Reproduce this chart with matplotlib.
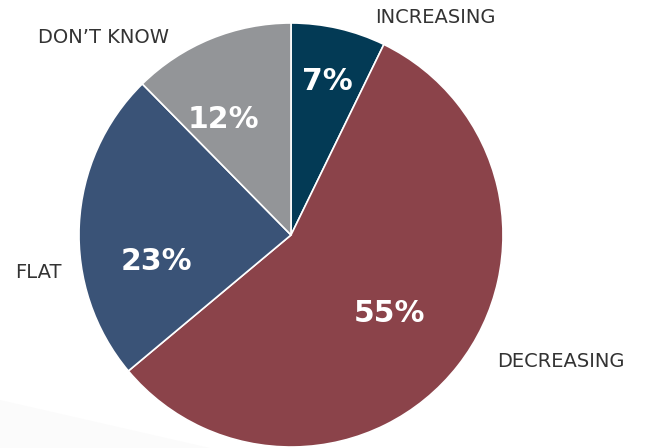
import matplotlib
matplotlib.use("Agg")
import matplotlib.pyplot as plt

categories = ["INCREASING", "DECREASING", "FLAT", "DON\u2019T KNOW"]
values = [7, 55, 23, 12]
colors = ["#033a55", "#8b434a", "#3a5377", "#939598"]
pct_labels = [f"{v}%" for v in values]

W, H = 652, 448
fig = plt.figure(figsize=(W / 100, H / 100), dpi=100)
ax = fig.add_axes([0, 0, 1, 1])

cx, cy, r = 291, H - 235, 212

# faint backdrop band in the lower left corner
ax.fill([0, 0, 210, 0], [0, 48, 0, 0], color="#fbfbfb", zorder=0, lw=0)

ax.pie(values, colors=colors, startangle=90, counterclock=False,
       center=(cx, cy), radius=r,
       wedgeprops=dict(edgecolor="white", linewidth=1.2),
       frame=True)
ax.set_xlim(0, W)
ax.set_ylim(0, H)
ax.set_aspect("equal")
ax.axis("off")

fam = ["DejaVu Sans"]

# category names (x centre, baseline y in pixels from top)
cat_pos = [(435, 23), (561, 367), (38, 278), (103, 43)]
for name, (x, y) in zip(categories, cat_pos):
    ax.text(x, H - y, name, ha="center", va="baseline", fontsize=14,
            color="#333333", family=fam, fontweight="normal")

# percentage labels inside slices
pct_pos = [(327, 90), (390, 322), (156, 270), (223, 128)]
for lab, (x, y) in zip(pct_labels, pct_pos):
    ax.text(x, H - y, lab, ha="center", va="baseline", fontsize=21.5,
            color="white", family=fam, fontweight="bold")

fig.savefig("out.png", dpi=100)
